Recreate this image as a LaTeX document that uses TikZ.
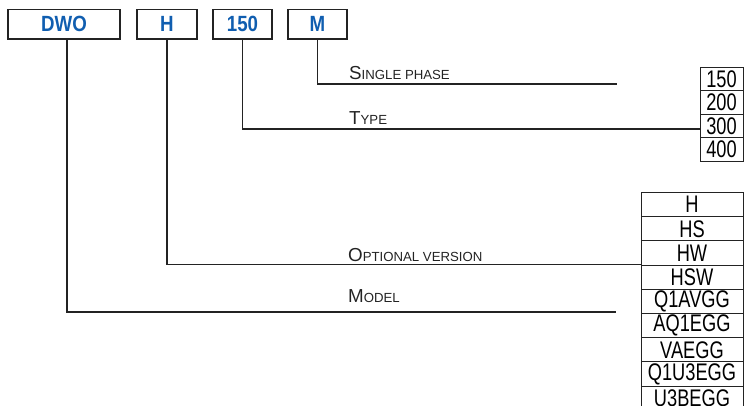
\documentclass[tikz,border=0pt]{standalone}
\usepackage{fontspec}
\setmainfont{Liberation Sans}
\newfontfamily\condfont[FakeStretch=0.85]{Liberation Sans}
\newfontfamily\narrowfont[FakeStretch=0.76]{Liberation Sans}
\newcommand\fakesc[2]{{\fontsize{18.8}{20}\selectfont #1}{\fontsize{13.2}{14}\selectfont #2}}
\definecolor{codeblue}{RGB}{16,94,176}
\definecolor{linegray}{RGB}{35,35,35}
\begin{document}
\begin{tikzpicture}[x=1pt,y=-1pt,
  codebox/.style={draw=linegray,line width=1.2pt,minimum height=29.5pt,inner sep=0pt,
    text=codeblue,font=\condfont\bfseries\fontsize{22}{22}\selectfont},
  cellA/.style={draw=linegray,line width=1pt,minimum width=43pt,minimum height=23.6pt,inner sep=0pt,
    font=\narrowfont\fontsize{24}{24}\selectfont},
  cellB/.style={draw=linegray,line width=1pt,minimum width=102pt,minimum height=24.2pt,inner sep=0pt,
    font=\narrowfont\fontsize{24}{24}\selectfont},
  lbl/.style={anchor=base west,inner sep=0pt,text=linegray},
  conn/.style={draw=linegray,line width=1.2pt}]
\useasboundingbox (0,0) rectangle (744,405);
\clip (0,0) rectangle (744,405);
% code boxes
\node[codebox,minimum width=112pt] (dwo) at (64,24.25) {DWO};
\node[codebox,minimum width=60pt] (hbox) at (167,24.25) {H};
\node[codebox,minimum width=59pt] (typebox) at (242.5,24.25) {150};
\node[codebox,minimum width=59pt] (mbox) at (317.5,24.25) {M};
% type table
\node[cellA] (t150) at (721.5,78.8) {150};
\node[cellA] (t200) at (721.5,102.4) {200};
\node[cellA] (t300) at (721.5,126.0) {300};
\node[cellA] (t400) at (721.5,149.6) {400};
% version/model table
\node[cellB] (vH) at (692,204.6) {H};
\node[cellB] (vHS) at (692,228.8) {HS};
\node[cellB] (vHW) at (692,253.0) {HW};
\node[cellB] (vHSW) at (692,277.2) {HSW};
\node[cellB] (mQ1AVGG) at (692,301.4) {Q1AVGG};
\node[cellB] (mAQ1EGG) at (692,325.6) {AQ1EGG};
\node[cellB] (mVAEGG) at (692,349.8) {VAEGG};
\node[cellB] (mQ1U3EGG) at (692,374.0) {Q1U3EGG};
\node[cellB] (mU3BEGG) at (692,398.2) {U3BEGG};
% connector ends
\coordinate (phaseend) at (617,84);
\coordinate (typeend) at (t300.west |- 0,129);
\coordinate (modelend) at (616,312);
% connectors
\draw[conn] (mbox.south) |- (phaseend);
\draw[conn] (typebox.south) |- (typeend);
\draw[conn] (hbox.south) |- (vHSW.north west);
\draw[conn] ([xshift=3pt]dwo.south) |- (modelend);
% labels
\node[lbl] (lphase) at (349,79) {\fakesc{S}{INGLE PHASE}};
\node[lbl] (ltype) at (349,124) {\fakesc{T}{YPE}};
\node[lbl] (lopt) at (348,261) {\fakesc{O}{PTIONAL VERSION}};
\node[lbl] (lmodel) at (348,302) {\fakesc{M}{ODEL}};
\end{tikzpicture}
\end{document}
